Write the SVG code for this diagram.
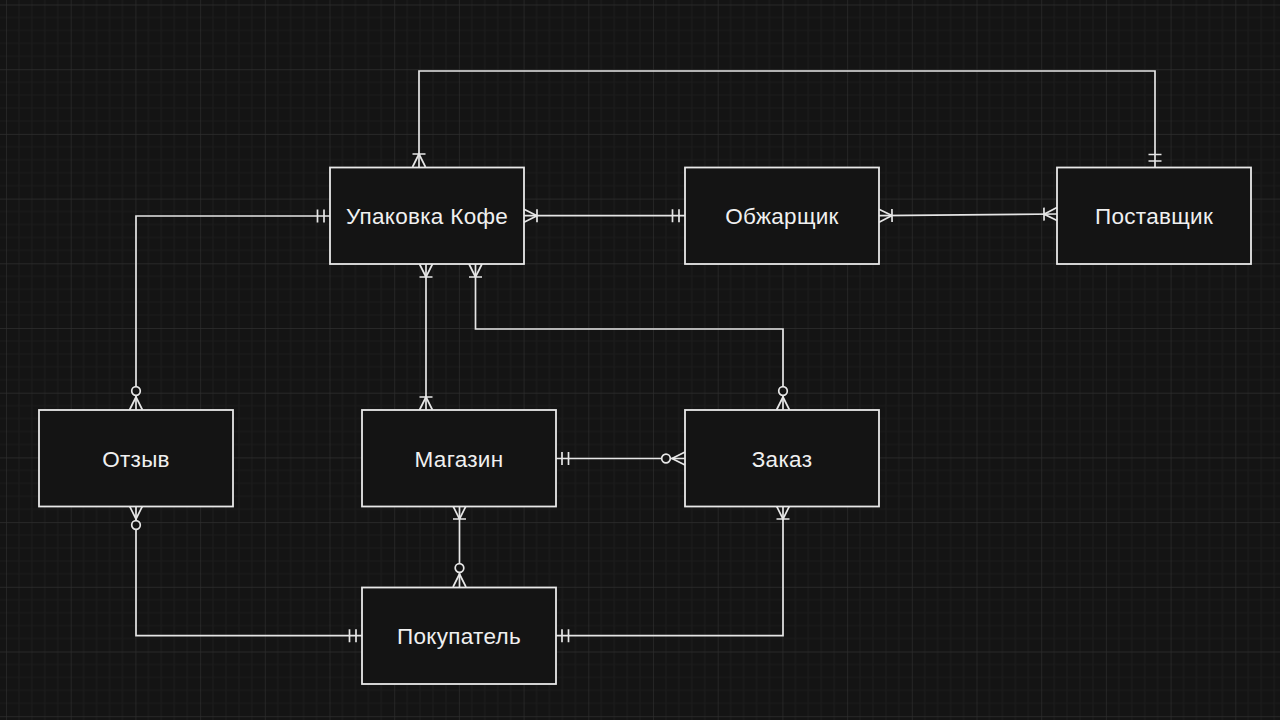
<svg xmlns="http://www.w3.org/2000/svg" width="1280" height="720" viewBox="0 0 1280 720">
<style>
.box{fill:#141414;stroke:#e8e8e8;stroke-width:1.8}
.lbl{font-family:"Liberation Sans",Arial,sans-serif;font-size:22.5px;letter-spacing:0.3px;fill:#f0f0f0;text-anchor:middle;dominant-baseline:central}
.edge{fill:none;stroke:#e6e6e6;stroke-width:1.7}
.mk{fill:none;stroke:#e6e6e6;stroke-width:1.7}
.mkc{fill:#141414;stroke:#e6e6e6;stroke-width:1.7}
</style>
<defs>
<pattern id="grid" patternUnits="userSpaceOnUse" width="50" height="50" patternTransform="translate(6,4.5) scale(1.294)">
<rect width="50" height="50" fill="#141414"/>
<path d="M10,0V50M20,0V50M30,0V50M40,0V50M0,10H50M0,20H50M0,30H50M0,40H50" stroke="#1c1c1c" stroke-width="0.8" fill="none"/>
<path d="M0,0V50M0,0H50" stroke="#2e2e2e" stroke-width="1" fill="none"/>
</pattern>
<marker id="mandOne" markerUnits="userSpaceOnUse" orient="auto-start-reverse" refX="0" refY="0" markerWidth="30" markerHeight="30" viewBox="-25 -15 30 30" overflow="visible">
<path class="mk" d="M-6,-6.5V6.5M-12.5,-6.5V6.5"/>
</marker>
<marker id="oneMany" markerUnits="userSpaceOnUse" orient="auto-start-reverse" refX="0" refY="0" markerWidth="30" markerHeight="30" viewBox="-25 -15 30 30" overflow="visible">
<path class="mk" d="M0,-6.5L-13,0L0,6.5M-13,-6.5V6.5"/>
</marker>
<marker id="zeroMany" markerUnits="userSpaceOnUse" orient="auto-start-reverse" refX="0" refY="0" markerWidth="30" markerHeight="30" viewBox="-25 -15 30 30" overflow="visible">
<path class="mk" d="M0,-6.5L-13,0L0,6.5"/>
<circle class="mkc" cx="-19" cy="0" r="4.3"/>
</marker>
</defs>
<rect x="0" y="0" width="1280" height="720" fill="url(#grid)"/>
<g id="connectors">
<path class="edge" d="M419,167V71H1155V167" marker-start="url(#oneMany)" marker-end="url(#mandOne)"/>
<path class="edge" d="M524,215.7H685" marker-start="url(#oneMany)" marker-end="url(#mandOne)"/>
<path class="edge" d="M879,215.7L1057,214" marker-start="url(#oneMany)" marker-end="url(#oneMany)"/>
<path class="edge" d="M330,216H136V410" marker-start="url(#mandOne)" marker-end="url(#zeroMany)"/>
<path class="edge" d="M426,264V410" marker-start="url(#oneMany)" marker-end="url(#oneMany)"/>
<path class="edge" d="M475.5,264V329H783V410" marker-start="url(#oneMany)" marker-end="url(#zeroMany)"/>
<path class="edge" d="M556,458.5H685" marker-start="url(#mandOne)" marker-end="url(#zeroMany)"/>
<path class="edge" d="M459.5,506V587" marker-start="url(#oneMany)" marker-end="url(#zeroMany)"/>
<path class="edge" d="M136,506V635.7H362" marker-start="url(#zeroMany)" marker-end="url(#mandOne)"/>
<path class="edge" d="M556,635.7H783V506" marker-start="url(#mandOne)" marker-end="url(#oneMany)"/>
</g>
<g id="upakovka"><rect class="box" x="330" y="167.5" width="194" height="96.5"/><text class="lbl" x="427" y="216">Упаковка Кофе</text></g>
<g id="obzharshchik"><rect class="box" x="685" y="167.5" width="194" height="96.5"/><text class="lbl" x="782" y="216">Обжарщик</text></g>
<g id="postavshchik"><rect class="box" x="1057" y="167.5" width="194" height="96.5"/><text class="lbl" x="1154" y="216">Поставщик</text></g>
<g id="otzyv"><rect class="box" x="39" y="410" width="194" height="96.5"/><text class="lbl" x="136" y="459">Отзыв</text></g>
<g id="magazin"><rect class="box" x="362" y="410" width="194" height="96.5"/><text class="lbl" x="459" y="459">Магазин</text></g>
<g id="zakaz"><rect class="box" x="685" y="410" width="194" height="96.5"/><text class="lbl" x="782" y="459">Заказ</text></g>
<g id="pokupatel"><rect class="box" x="362" y="587.5" width="194" height="96.5"/><text class="lbl" x="459" y="636">Покупатель</text></g>
</svg>
